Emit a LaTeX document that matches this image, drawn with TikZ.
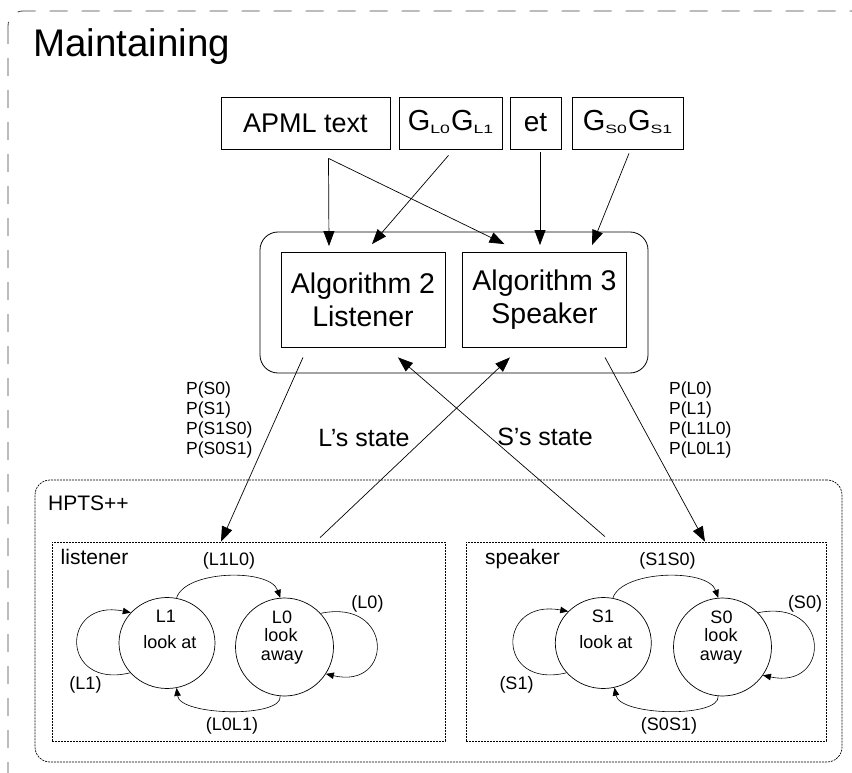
\documentclass[tikz,border=0pt]{standalone}
\usepackage{fontspec}
\setmainfont{Liberation Sans}
\usetikzlibrary{arrows.meta,shapes.geometric}

\newcommand{\fsz}[2]{\fontsize{#1}{#2}\selectfont}
\newcommand{\gsub}[1]{\raisebox{-3pt}{\scalebox{1.6}[1.1]{\fsz{11}{11}#1}}}

\begin{document}
\begin{tikzpicture}[x=1pt,y=-1pt,>={Triangle[length=15pt,width=11pt]},
  box/.style={draw,line width=0.8pt,minimum height=52pt,inner sep=0pt,
              font=\fsz{27}{30}},
  algo/.style={draw,line width=0.8pt,minimum width=164pt,minimum height=95pt,
               inner sep=0pt,align=center,font=\fsz{28.5}{33}},
  dotbox/.style={draw,line width=0.7pt,dash pattern=on 2pt off 1pt,inner sep=0pt},
  state/.style={draw,ellipse,line width=0.7pt,inner sep=0pt},
  flow/.style={->,line width=0.7pt},
  trans/.style={-{Triangle[length=8pt,width=6.5pt]},line width=0.6pt},
  lbl/.style={inner sep=0pt,font=\fsz{18}{18}},
  plist/.style={anchor=west,inner sep=0pt,align=left,font=\fsz{17.5}{20}}]

  \useasboundingbox (0,0) rectangle (852,773);

  % --- outer dashed frame ---
  \begin{scope}
    \clip (0,0) rectangle (852,773);
    \draw[black!75,line width=0.8pt,dash pattern=on 18pt off 14pt,
          rounded corners=15pt] (8,11) rectangle (866,800);
  \end{scope}
  \node[anchor=base west,inner sep=0pt,font=\fsz{38.5}{40}] (title) at (33,57)
        {Maintaining};

  % --- inputs ---
  \node[box,minimum width=169pt] (apml) at (305.5,123) {APML text};
  \node[box,minimum width=103pt,font=\fsz{29}{30},text depth=6pt] (gl) at (450.5,123)
        {G\gsub{L0}\kern1pt G\gsub{L1}};
  \node[box,minimum width=51pt,font=\fsz{28}{30}] (et) at (535.5,123) {et};
  \node[box,minimum width=111pt,font=\fsz{29}{30},text depth=6pt] (gs) at (627.5,123)
        {G\gsub{S0}\kern1pt G\gsub{S1}};

  % --- algorithms ---
  \node[draw,line width=0.8pt,rounded corners=18pt,minimum width=388pt,
        minimum height=141pt] (algbox) at (454,302.5) {};
  \node[algo] (alg2) at (363,300)   {Algorithm 2\\Listener};
  \node[algo] (alg3) at (544.5,300) {Algorithm 3\\Speaker};

  \coordinate (apmlout) at ([xshift=23pt,yshift=-9pt]apml.south);
  \draw[flow] (apmlout) -- ([xshift=-34pt,yshift=6pt]alg2.north);
  \draw[flow] (apmlout) -- ([xshift=-40pt,yshift=8pt]alg3.north);
  \draw[flow] ([xshift=-2pt,yshift=-6pt]gl.south) -- ([xshift=9pt,yshift=8pt]alg2.north);
  \draw[flow] ([xshift=4.5pt,yshift=-3pt]et.south) -- ([xshift=-4.5pt,yshift=7pt]alg3.north);
  \draw[flow] ([xshift=1.5pt,yshift=-4pt]gs.south) -- ([xshift=47.5pt,yshift=7pt]alg3.north);

  % --- HPTS++ ---
  \node[dotbox,rounded corners=15pt,minimum width=807pt,minimum height=282pt]
        (hpts) at (438.5,621) {};
  \node[anchor=base west,inner sep=0pt,font=\fsz{21}{21}] (hptslbl) at (48,510) {HPTS++};
  \node[dotbox,minimum width=393pt,minimum height=199pt] (lst) at (248.5,641.5) {};
  \node[dotbox,minimum width=360pt,minimum height=199pt] (spk) at (646,641.5) {};
  \node[anchor=base west,inner sep=0pt,font=\fsz{21}{21}] (lstlbl) at (60.5,564) {listener};
  \node[anchor=base west,inner sep=0pt,font=\fsz{21}{21}] (spklbl) at (485,564) {speaker};

  % feedback between algorithms and automata
  \draw[flow] ([xshift=-60pt,yshift=-9.5pt]alg2.south) -- ([xshift=-27.5pt]lst.north);
  \draw[flow] ([xshift=71.5pt,yshift=4pt]lst.north) -- ([xshift=-34.5pt,yshift=-9.5pt]alg3.south);
  \draw[flow] ([xshift=-41pt,yshift=5pt]spk.north) -- ([xshift=35pt,yshift=-9.5pt]alg2.south);
  \draw[flow] ([xshift=60.5pt,yshift=-9.5pt]alg3.south) -- ([xshift=59pt]spk.north);

  \node[plist] (pl) at (186,420) {P(S0)\\P(S1)\\P(S1S0)\\P(S0S1)};
  \node[plist] (pr) at (669,420) {P(L0)\\P(L1)\\P(L1L0)\\P(L0L1)};
  \node[inner sep=0pt,font=\fsz{25}{25}] (lstate) at (364,438) {L’s state};
  \node[inner sep=0pt,font=\fsz{25}{25}] (sstate) at (545,437) {S’s state};

  % --- listener automaton ---
  \node[state,minimum width=96pt,minimum height=91pt] (l1) at (167,643) {};
  \node[state,minimum width=98pt,minimum height=98pt] (l0) at (284.5,647) {};
  \node[lbl,anchor=base] at (166,622) {L1};
  \node[lbl,anchor=base] at (170,648) {look at};
  \node[lbl,anchor=base] at (282,623) {L0};
  \node[lbl,anchor=base] at (281,641) {look};
  \node[lbl,anchor=base] at (282,660) {away};

  \draw[trans] (l1.78) .. controls (185,570) and (270,568) .. (l0.95);
  \draw[trans] (l0.265) .. controls (283,718) and (180,716) .. (l1.282);
  \draw[trans] (l1.219) .. controls (60,690) and (60,598) .. (l1.140);
  \draw[trans] (l0.43) .. controls (394,598) and (394,690) .. (l0.327);

  \node[lbl] (l1l0) at (229,561) {(L1L0)};
  \node[lbl] (l0l1) at (232,725.5) {(L0L1)};
  \node[lbl] (l1l1) at (85.5,684.5) {(L1)};
  \node[lbl] (l0l0) at (367.5,603.5) {(L0)};

  % --- speaker automaton ---
  \node[state,minimum width=96pt,minimum height=91pt] (s1) at (603.3,643) {};
  \node[state,minimum width=98pt,minimum height=98pt] (s0) at (722.5,647) {};
  \node[lbl,anchor=base] at (603,622) {S1};
  \node[lbl,anchor=base] at (606,648) {look at};
  \node[lbl,anchor=base] at (721.5,623) {S0};
  \node[lbl,anchor=base] at (721,641) {look};
  \node[lbl,anchor=base] at (721,660) {away};

  \draw[trans] (s1.78) .. controls (622,570) and (708,568) .. (s0.95);
  \draw[trans] (s0.265) .. controls (720,718) and (620,716) .. (s1.284);
  \draw[trans] (s1.219) .. controls (496,690) and (496,598) .. (s1.138);
  \draw[trans] (s0.44) .. controls (831,598) and (831,690) .. (s0.325);

  \node[lbl] (s1s0) at (667.5,561) {(S1S0)};
  \node[lbl] (s0s1) at (669,725.5) {(S0S1)};
  \node[lbl] (s1s1) at (516.5,684.5) {(S1)};
  \node[lbl] (s0s0) at (805,603.5) {(S0)};

\end{tikzpicture}
\end{document}
